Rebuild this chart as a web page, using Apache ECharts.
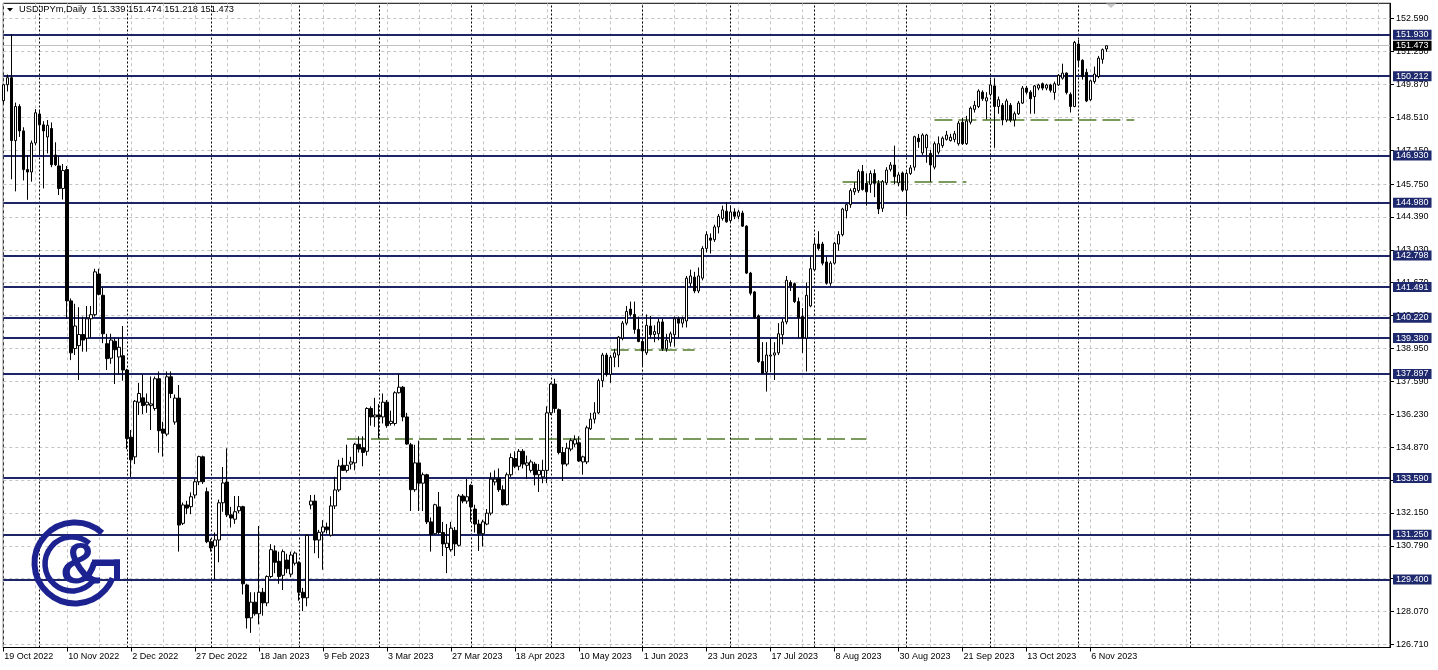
<!DOCTYPE html>
<html><head><meta charset="utf-8">
<script src="https://cdn.jsdelivr.net/npm/echarts@6/dist/echarts.min.js"></script>
<style>html,body{margin:0;padding:0;background:#fff}#c{width:1438px;height:670px}</style>
</head><body><div id="c"></div>
<script>
// ---- data (open, close, low, high) per daily bar from 19 Oct 2022 ----
const candles = [
[149.20,149.86,149.05,149.90],[149.86,150.15,149.58,150.28],[150.15,147.55,145.95,151.94],[147.55,148.96,145.45,149.12],
[148.96,147.95,147.70,149.05],[147.95,146.35,145.90,148.10],[146.35,146.25,145.10,146.95],[146.25,147.45,145.85,147.55],
[147.45,148.70,147.35,148.85],[148.65,148.20,147.00,148.82],[148.20,147.95,145.57,148.35],[147.70,148.18,147.02,148.40],
[148.05,146.55,146.45,148.30],[146.95,146.55,146.50,147.48],[146.50,145.57,145.30,146.90],[145.57,146.31,145.11,146.58],
[146.35,140.92,140.18,146.50],[140.92,138.77,138.47,141.02],[138.95,139.88,138.68,140.80],[139.07,139.53,137.65,140.66],
[139.53,139.30,138.82,140.27],[139.38,140.18,138.82,140.71],[140.18,140.35,139.38,140.71],[140.35,142.12,140.27,142.25],
[142.03,141.19,141.15,142.25],[141.15,139.56,139.17,141.47],[139.15,138.53,138.06,139.56],[138.55,139.30,138.32,139.56],
[139.25,138.90,137.48,139.38],[138.60,139.00,137.88,139.38],[138.65,138.06,137.62,139.88],[138.06,135.23,134.79,138.11],
[135.28,134.35,133.64,135.58],[134.47,136.77,134.17,136.82],[136.73,137.09,136.20,137.53],[136.91,136.59,136.24,137.88],
[136.62,136.73,136.29,137.09],[136.59,136.66,135.58,137.79],[136.47,137.70,136.38,137.79],[137.70,135.55,134.64,138.00],
[135.62,135.45,134.48,135.92],[135.41,137.78,135.32,138.00],[137.78,137.09,136.90,138.00],[135.91,136.90,135.80,137.05],
[136.90,131.65,130.55,137.44],[131.72,132.48,131.65,132.58],[132.48,132.35,132.10,132.65],[132.41,132.82,132.10,133.00],
[132.89,133.44,132.75,133.55],[133.44,134.48,133.30,134.52],[134.47,133.44,133.35,134.52],[133.03,130.96,130.90,133.20],
[130.96,130.70,130.55,131.08],[130.78,131.03,129.40,131.34],[131.03,132.57,130.11,132.70],[132.57,133.39,132.20,134.05],
[133.43,132.07,131.98,134.82],[132.07,131.94,131.55,132.40],[131.89,132.20,131.70,132.85],[132.24,132.41,132.14,132.85],
[132.41,129.22,128.78,132.45],[129.17,127.81,127.37,129.22],[127.81,128.46,127.19,128.87],[128.46,127.98,127.90,128.87],
[127.98,128.87,127.54,131.61],[128.87,128.43,127.90,129.05],[128.43,129.52,128.29,129.57],[129.52,130.63,129.45,130.86],
[130.58,130.11,129.66,130.81],[130.15,129.52,129.22,130.55],[129.57,130.55,128.96,130.64],[130.20,129.84,129.66,130.46],
[129.62,130.41,129.49,130.55],[130.07,130.49,129.98,130.56],[130.09,128.87,128.52,130.15],[128.87,128.64,128.09,129.05],
[128.64,131.22,128.29,131.26],[132.48,132.64,132.30,132.89],[132.64,131.03,130.48,132.90],[131.03,131.35,130.28,131.45],
[131.36,131.57,129.80,131.85],[131.57,131.45,131.30,131.75],[131.23,132.44,131.17,132.84],[132.44,133.10,132.31,133.64],
[133.10,134.09,133.02,134.35],[134.12,133.91,133.91,134.43],[133.91,134.12,133.82,134.97],[134.17,134.26,133.95,134.47],
[134.22,134.99,133.91,135.05],[134.99,134.79,134.65,135.32],[134.85,134.65,134.08,135.32],[134.70,136.47,134.52,136.52],
[136.47,136.12,135.76,136.56],[136.12,136.20,135.71,136.91],[136.20,136.12,135.23,136.65],[136.12,136.73,135.85,137.09],
[136.73,135.76,135.67,136.82],[135.85,135.94,135.76,136.38],[135.85,137.12,135.76,137.18],[137.12,137.35,137.09,137.90],
[137.35,136.12,135.94,137.40],[136.12,135.00,134.97,136.29],[134.97,133.11,132.23,135.05],[133.11,134.22,133.02,134.97],
[134.22,133.38,132.23,135.14],[133.38,133.73,132.23,133.82],[133.73,131.78,131.69,133.77],[131.78,131.26,130.55,131.96],
[131.29,132.49,131.26,132.53],[132.40,131.34,131.26,133.02],[131.34,130.87,130.37,131.78],[130.72,130.90,129.66,131.69],
[130.63,131.52,130.55,131.78],[131.43,130.87,130.37,131.57],[130.81,132.85,130.76,132.93],[132.85,132.64,132.55,132.93],
[132.64,132.82,132.53,133.55],[133.29,132.40,131.78,133.34],[132.31,131.69,131.34,132.49],[131.69,131.29,130.58,131.87],
[131.29,131.78,130.76,131.87],[131.69,132.14,131.64,132.31],[132.14,133.55,132.05,133.82],[133.43,133.55,133.29,133.91],
[133.58,133.11,133.02,133.99],[133.11,132.49,132.46,133.29],[132.49,133.73,132.46,133.82],[133.73,134.44,133.64,134.61],
[134.40,134.08,134.00,134.70],[134.08,134.70,133.91,134.79],[134.70,134.17,133.99,134.79],[134.12,134.22,133.55,134.52],
[133.91,134.26,133.82,134.35],[134.17,133.73,133.29,134.26],[133.73,133.91,133.02,134.17],[133.64,133.91,133.38,134.35],
[133.91,136.29,133.38,136.56],[136.29,137.48,136.20,137.53],[137.48,136.47,136.29,137.70],[136.42,134.65,134.57,136.47],
[134.65,134.17,133.47,134.88],[134.17,134.83,134.08,135.05],[134.79,135.14,134.70,135.23],[135.00,135.18,134.88,135.36],
[135.05,134.30,134.26,135.32],[134.26,134.47,133.73,134.52],[134.26,135.67,134.17,135.76],[135.63,136.03,135.58,136.29],
[136.03,136.29,135.85,136.73],[136.29,137.62,136.24,137.70],[137.62,138.68,137.35,138.77],[138.68,137.88,137.79,138.77],
[137.88,138.59,137.53,138.68],[138.59,138.77,138.18,138.94],[138.68,139.42,138.18,139.47],[139.38,140.00,139.29,140.09],
[140.00,140.48,139.91,140.71],[140.58,140.36,140.27,140.89],[140.36,139.74,139.56,140.89],[139.74,139.24,139.21,140.27],
[139.24,138.85,138.23,139.38],[138.77,139.91,138.68,140.36],[139.88,139.52,139.38,140.30],[139.53,139.65,139.21,139.91],
[139.56,140.05,139.29,140.18],[140.05,138.94,138.85,140.18],[138.94,139.30,138.82,139.56],[139.21,139.56,139.03,139.65],
[139.52,140.18,139.03,140.27],[140.18,140.00,139.38,140.27],[140.00,140.18,139.82,140.27],[140.09,141.86,139.82,141.95],
[141.65,141.95,141.50,142.21],[141.90,141.33,141.24,142.12],[141.33,141.95,141.24,142.30],[141.86,143.09,141.77,143.18],
[143.09,143.66,142.92,143.80],[143.52,143.43,142.88,143.71],[143.45,143.98,143.36,144.07],[143.98,144.42,143.71,144.51],
[144.33,144.68,144.24,144.86],[144.63,144.19,144.15,145.00],[144.24,144.60,144.15,144.86],[144.60,144.42,144.30,144.75],
[144.42,144.60,144.30,144.68],[144.55,144.01,143.98,144.65],[144.01,142.07,142.03,144.05],[142.07,141.24,141.15,142.12],
[141.29,140.23,140.18,141.33],[140.30,138.41,138.36,140.36],[138.41,137.93,137.88,139.21],[137.97,138.68,137.17,139.21],
[138.64,138.68,137.97,139.38],[138.68,138.77,137.65,139.21],[138.77,139.56,138.68,140.00],[139.52,140.05,139.12,140.18],
[140.05,141.77,139.95,141.95],[141.68,141.54,141.33,141.77],[141.63,140.89,140.83,141.68],[140.89,140.23,139.38,141.06],
[140.27,139.38,138.77,140.62],[139.38,141.15,138.00,141.68],[140.71,142.25,140.66,142.74],[142.21,143.27,142.17,143.54],
[143.27,143.09,143.00,143.80],[143.27,142.48,142.39,143.36],[142.53,141.65,141.59,142.74],[141.65,142.48,141.54,142.56],
[142.48,143.30,142.42,143.36],[143.27,143.66,143.00,143.80],[143.66,144.72,143.59,144.77],[144.65,144.90,144.33,144.95],
[144.90,145.48,144.77,145.57],[145.43,145.57,145.30,145.83],[145.48,146.27,145.39,146.36],[146.27,145.53,145.48,146.54],
[145.78,145.43,144.86,146.19],[145.74,146.19,145.39,146.31],[146.19,145.78,145.21,146.36],[145.78,144.72,144.51,145.92],
[144.75,145.85,144.60,145.92],[145.80,146.33,145.71,146.45],[146.36,146.54,146.27,146.66],[146.54,146.06,145.74,147.34],
[145.80,146.13,145.66,146.24],[146.21,145.50,145.43,146.27],[145.50,146.19,144.42,146.27],[146.19,146.42,146.13,146.54],
[146.45,147.71,146.31,147.75],[147.65,147.50,147.25,147.82],[147.04,147.78,146.95,147.85],[147.25,147.78,146.63,147.83],
[147.02,146.54,145.85,147.16],[146.45,147.42,146.36,147.51],[147.07,147.42,146.98,147.72],[147.34,147.65,147.25,147.72],
[147.60,147.78,147.55,147.95],[147.55,147.69,147.51,147.83],[147.60,147.83,147.48,147.95],[147.42,148.27,147.34,148.36],
[148.31,147.42,147.37,148.49],[147.42,148.36,147.37,148.57],[148.31,148.89,148.22,148.96],[148.84,149.01,148.71,149.19],
[148.96,149.60,148.89,149.67],[149.55,149.28,149.19,149.63],[149.19,149.32,148.43,149.55],[149.46,149.85,149.37,150.07],
[149.81,148.96,147.25,150.13],[148.96,149.24,148.66,149.37],[149.01,148.40,148.18,149.10],[148.40,149.19,148.31,149.28],
[149.01,148.40,148.31,149.10],[148.40,148.66,148.13,148.75],[148.66,149.10,148.61,149.19],[149.10,149.72,149.06,149.81],
[149.72,149.55,149.46,149.81],[149.55,149.28,148.66,149.63],[149.37,149.81,148.66,149.85],[149.72,149.85,149.63,149.90],
[149.90,149.72,149.63,149.95],[149.72,149.85,149.63,149.90],[149.85,149.63,149.54,149.90],[149.54,149.90,149.24,149.99],
[149.85,150.25,149.81,150.30],[150.13,150.34,150.07,150.73],[150.34,149.54,149.46,150.37],[149.46,148.96,148.71,149.54],
[148.96,151.61,148.93,151.67],[151.54,150.87,150.61,151.72],[150.87,150.20,150.07,150.91],[150.37,149.19,149.14,150.52],
[149.24,150.02,149.19,150.07],[149.99,150.30,149.90,150.61],[150.20,150.96,150.13,151.05],[150.91,151.31,150.73,151.36],
[151.339,151.473,151.218,151.474]
];
const levels = [151.930,150.212,146.930,144.980,142.798,141.491,140.220,139.380,137.897,133.590,131.250,129.400];
const tickValues = [152.590,151.250,149.870,148.510,147.150,145.750,144.390,143.030,141.670,140.310,138.950,137.590,136.230,134.870,133.510,132.150,130.790,129.430,128.070,126.710];
// [start bar, end bar, price]
const supportLines = [[86,216,135.23],[152,173,138.91],[210,241,145.83],[233,283,148.43]];
const separatorBars = [9,31,52,74,94,117,137,160,182,203,226,247,269,297];
const skipDays = ['2022-12-26'];
const symbolName = 'USDJPYm,Daily';

// ---- calendar of trading days (categories) ----
const MON = ['Jan','Feb','Mar','Apr','May','Jun','Jul','Aug','Sep','Oct','Nov','Dec'];
const slotCount = 348;
const categories = [];
for (let t = Date.UTC(2022, 9, 19); categories.length < slotCount; t += 86400000) {
  const d = new Date(t), wd = d.getUTCDay();
  if (wd === 0 || wd === 6) continue;
  if (skipDays.includes(d.toISOString().slice(0, 10))) continue;
  categories.push(d.getUTCDate() + ' ' + MON[d.getUTCMonth()] + ' ' + d.getUTCFullYear());
}
const lastIdx = candles.length - 1;
const last = candles[lastIdx];
const header = symbolName + '  ' + [last[0], last[3], last[2], last[1]].map(v => v.toFixed(3)).join(' ');

const FONT = 'Liberation Sans';
const NAVY = '#1d2566';
const chart = echarts.init(document.getElementById('c'), null, {renderer: 'canvas'});
const option = {
  animation: false,
  backgroundColor: '#ffffff',
  grid: {left: 3.3, top: 3.3, width: 1386.7, height: 644.2, show: true, borderColor: '#000', borderWidth: 1, backgroundColor: 'transparent'},
  xAxis: {
    type: 'category', data: categories, boundaryGap: false,
    axisLine: {show: true, lineStyle: {color: '#000', width: 1}},
    axisTick: {show: true, length: 4, interval: i => i % 16 === 0 && i <= lastIdx, lineStyle: {color: '#000'}},
    axisLabel: {interval: i => i % 16 === 0 && i <= lastIdx, align: 'left', margin: 5, fontSize: 9, fontFamily: FONT, color: '#000', padding: [0, 0, 0, 1]},
    splitLine: {show: true, interval: i => i % 8 === 0, lineStyle: {color: '#c4c4c4', type: [3, 3], width: 1}}
  },
  yAxis: {
    type: 'value', position: 'right', min: 126.585, max: 153.227,
    axisLine: {show: true, lineStyle: {color: '#000'}},
    axisTick: {show: true, length: 4, customValues: tickValues, lineStyle: {color: '#000'}},
    axisLabel: {customValues: tickValues, formatter: v => v.toFixed(3), margin: 6, fontSize: 9, fontFamily: FONT, color: '#000'},
    splitLine: {show: true, lineStyle: {color: '#c4c4c4', type: [3, 3], width: 1}}
  },
  series: [
    {
      type: 'line', data: [], z: 2, silent: true,
      markLine: {silent: true, symbol: 'none', animation: false, label: {show: false},
        lineStyle: {color: '#000', width: 1, type: [2, 2]},
        data: separatorBars.map(i => ({xAxis: categories[i]}))}
    },
    {
      type: 'line', data: [], z: 3, silent: true,
      markLine: {silent: true, symbol: 'none', animation: false,
        lineStyle: {color: '#4f7a2a', width: 1.5, type: [18, 6]}, label: {show: false},
        data: supportLines.map(s => [{coord: [categories[s[0]], s[2]]}, {coord: [categories[s[1]], s[2]]}])}
    },
    {
      type: 'line', data: [], z: 3, silent: true,
      markLine: {silent: true, symbol: 'none', animation: false, precision: 3,
        lineStyle: {color: '#c0c0c0', width: 1, type: 'solid'},
        label: {show: true, position: 'end', distance: 3, formatter: () => last[1].toFixed(3), color: '#fff', backgroundColor: '#000',
          padding: [1, 3, 0, 3], fontSize: 9, fontFamily: FONT, lineHeight: 9},
        data: [{yAxis: last[1]}]}
    },
    {
      type: 'line', data: [], z: 4, silent: true,
      markLine: {silent: true, symbol: 'none', animation: false, precision: 3,
        lineStyle: {color: NAVY, width: 2, type: 'solid'},
        label: {show: true, position: 'end', distance: 3, formatter: p => levels[p.dataIndex].toFixed(3), color: '#fff', backgroundColor: '#1f2a6e',
          padding: [1, 3, 0, 3], fontSize: 9, fontFamily: FONT, lineHeight: 9},
        data: levels.map(v => ({yAxis: v}))}
    },
    {
      type: 'candlestick', z: 5, barWidth: 3, silent: true,
      data: candles.map(c => [c[0], c[1], Math.min(c[2], c[0], c[1]), Math.max(c[3], c[0], c[1])]),
      itemStyle: {color: '#ffffff', color0: '#000000', borderColor: '#000000', borderColor0: '#000000', borderColorDoji: '#000000', borderWidth: 1}
    }
  ],
  graphic: [
    {type: 'polygon', z: 20, shape: {points: [[7, 8], [13, 8], [10, 11.5]]}, style: {fill: '#000'}},
    {type: 'text', z: 20, left: 19, top: 5, style: {text: header, font: '9.3px "Liberation Sans"', fill: '#000'}},
    {type: 'polygon', z: 20, shape: {points: [[1106, 3.5], [1116, 3.5], [1111, 8]]}, style: {fill: '#c8c8c8'}},
    // logo
    {type: 'arc', z: 20, shape: {cx: 75, cy: 563, r: 40.5, startAngle: -48 * Math.PI / 180, endAngle: 22 * Math.PI / 180, clockwise: false},
      style: {stroke: '#1c2390', lineWidth: 6, fill: null}},
    {type: 'arc', z: 20, shape: {cx: 72, cy: 564, r: 27, startAngle: -50 * Math.PI / 180, endAngle: 38 * Math.PI / 180, clockwise: false},
      style: {stroke: '#1c2390', lineWidth: 5.5, fill: null}},
    {type: 'rect', z: 20, shape: {x: 92, y: 559.5, width: 28, height: 6.5}, style: {fill: '#1c2390'}},
    {type: 'rect', z: 20, shape: {x: 114, y: 559.5, width: 6, height: 21}, style: {fill: '#1c2390'}},
    {type: 'text', z: 20, x: 81, y: 567, style: {text: '&', font: 'bold 58px "Liberation Sans"', fill: '#1c2390', textAlign: 'center', textVerticalAlign: 'middle'}}
  ]
};
chart.setOption(option);
</script>
</body></html>
